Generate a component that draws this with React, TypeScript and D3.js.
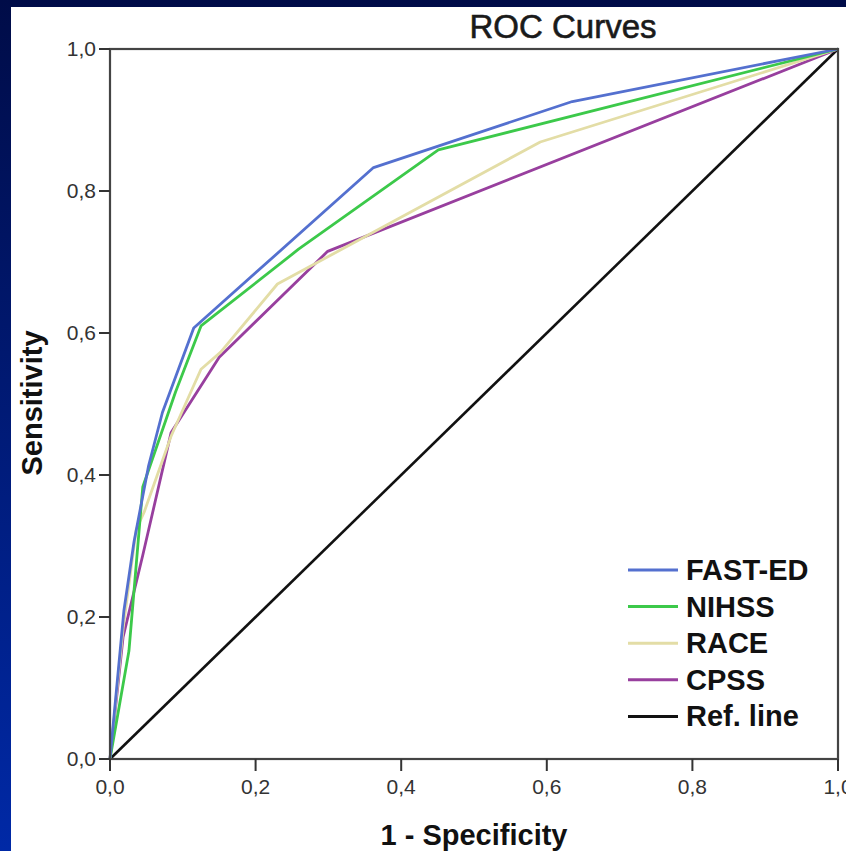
import React from 'react'
import * as d3 from 'd3'

// values
const fastEdX = [0, 0.019, 0.033, 0.053, 0.072, 0.115, 0.362, 0.635, 1]
const fastEdY = [0, 0.208, 0.306, 0.413, 0.488, 0.607, 0.833, 0.926, 1]
const nihssX = [0, 0.026, 0.045, 0.09, 0.125, 0.259, 0.451, 0.69, 1]
const nihssY = [0, 0.152, 0.383, 0.517, 0.61, 0.718, 0.858, 0.92, 1]
const raceX = [0, 0.018, 0.036, 0.047, 0.084, 0.125, 0.152, 0.23, 0.591, 1]
const raceY = [0, 0.184, 0.323, 0.348, 0.455, 0.549, 0.573, 0.669, 0.869, 1]
const cpssX = [0, 0.018, 0.045, 0.084, 0.15, 0.299, 1]
const cpssY = [0, 0.172, 0.287, 0.46, 0.566, 0.715, 1]
const refX = [0, 1]
const refY = [0, 1]

const tickValues = [0, 0.2, 0.4, 0.6, 0.8, 1]
const tickLabels = ['0,0', '0,2', '0,4', '0,6', '0,8', '1,0']

const seriesNames = ['FAST-ED', 'NIHSS', 'RACE', 'CPSS', 'Ref. line']
const seriesColors = ['#5470cf', '#3cc94a', '#e3dda6', '#983f9e', '#111111']

const W = 846
const H = 851
const left = 110
const right = 838
const top = 49
const bottom = 759

export default function App() {
  const x = d3.scaleLinear().domain([0, 1]).range([left, right])
  const y = d3.scaleLinear().domain([0, 1]).range([bottom, top])
  const line = d3.line<[number, number]>().x(d => x(d[0])).y(d => y(d[1]))

  const series = [
    [fastEdX, fastEdY],
    [nihssX, nihssY],
    [raceX, raceY],
    [cpssX, cpssY],
    [refX, refY],
  ].map(([xs, ys]) => xs.map((v, i) => [v, ys[i]] as [number, number]))

  // draw order: ref line under, then the curves
  const order = [4, 3, 2, 1, 0]

  return (
    <svg width={W} height={H} style={{ position: 'absolute', left: 0, top: 0 }}
      fontFamily="'Liberation Sans', Arial, sans-serif">
      <defs>
        <linearGradient id="bg" x1="0" y1="0" x2="0" y2="1">
          <stop offset="0" stopColor="#000c48" />
          <stop offset="1" stopColor="#0029a6" />
        </linearGradient>
      </defs>
      <rect x={0} y={0} width={W} height={H} fill="url(#bg)" />
      <rect x={11} y={7} width={W - 11} height={H - 7} fill="#ffffff" />

      <text x={563} y={38} textAnchor="middle" fontSize={33} fill="#1a1a1a"
        stroke="#1a1a1a" strokeWidth={0.6}>ROC Curves</text>

      {/* curves */}
      {order.map(i => (
        <path key={i} d={line(series[i]) || ''} fill="none" stroke={seriesColors[i]}
          strokeWidth={i === 4 ? 2.6 : 2.8} strokeLinejoin="round" />
      ))}

      {/* frame */}
      <rect x={left} y={top} width={right - left} height={bottom - top} fill="none"
        stroke="#444" strokeWidth={2.2} />

      {/* y axis ticks */}
      {tickValues.map((t, i) => (
        <g key={'y' + i}>
          <line x1={left - 11} x2={left} y1={y(t)} y2={y(t)} stroke="#333" strokeWidth={2} />
          <text x={left - 14} y={y(t) + 7} textAnchor="end" fontSize={21} fill="#333">{tickLabels[i]}</text>
        </g>
      ))}
      {/* x axis ticks */}
      {tickValues.map((t, i) => (
        <g key={'x' + i}>
          <line x1={x(t)} x2={x(t)} y1={bottom} y2={bottom + 12} stroke="#333" strokeWidth={2} />
          <text x={x(t)} y={bottom + 35} textAnchor="middle" fontSize={21} fill="#333">{tickLabels[i]}</text>
        </g>
      ))}

      <text x={474} y={845} textAnchor="middle" fontSize={29} fontWeight="bold" fill="#111">1 - Specificity</text>
      <text transform={`translate(42,403) rotate(-90)`} textAnchor="middle" fontSize={29} fontWeight="bold" fill="#111">Sensitivity</text>

      {/* legend */}
      {seriesNames.map((n, i) => (
        <g key={n} transform={`translate(628,${570 + i * 36.6})`}>
          <line x1={0} x2={50} y1={0} y2={0} stroke={seriesColors[i]} strokeWidth={3} />
          <text x={58} y={10} fontSize={29} fontWeight="bold" fill="#111">{n}</text>
        </g>
      ))}
    </svg>
  )
}
